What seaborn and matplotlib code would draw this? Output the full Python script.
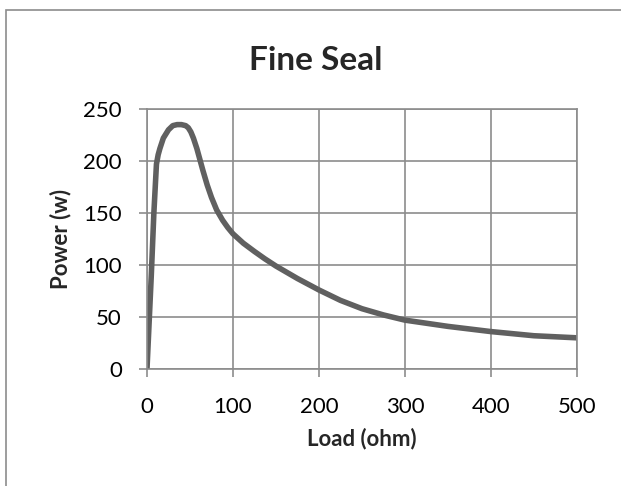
import matplotlib
matplotlib.use("Agg")
import matplotlib.pyplot as plt
import seaborn as sns
import pandas as pd
from matplotlib.patches import Rectangle

load_ohm = [0, 5, 8, 11, 13, 15, 19, 25, 30, 35, 40, 45, 48, 51, 54, 58, 62, 65, 70, 75,
            81, 88, 94, 100, 112, 125, 137, 150, 175, 200, 225, 250, 275, 300, 350, 400,
            450, 500]
power_w = [0, 90, 150, 197, 206, 212, 222, 230, 234, 235, 235, 234, 232, 228, 222, 212,
           200, 191, 177, 165, 153, 143, 136, 130, 121, 113, 106, 99, 87, 76, 66, 58, 52,
           47, 41, 36, 32, 30]
x_ticks = [0, 100, 200, 300, 400, 500]
y_ticks = [0, 50, 100, 150, 200, 250]

df = pd.DataFrame({"Load (ohm)": load_ohm, "Power (w)": power_w})

sns.set_theme(style="white")
plt.rcParams["font.family"] = ["Lato", "DejaVu Sans"]

fig = plt.figure(figsize=(6.21, 4.86), dpi=100)
ax = fig.add_axes([0.2367, 0.2407, 0.929 - 0.2367, 0.7757 - 0.2407])

sns.lineplot(data=df, x="Load (ohm)", y="Power (w)", ax=ax, color="#606060",
             linewidth=4.0, sort=False, estimator=None)
ax.lines[0].set_solid_joinstyle("round")
ax.lines[0].set_solid_capstyle("round")

ax.set_xlim(0, 500)
ax.set_ylim(0, 250)
ax.set_xticks(x_ticks)
ax.set_yticks(y_ticks)
ax.grid(True, color="#8c8c8c", linewidth=1.2)
for s in ax.spines.values():
    s.set_color("#8c8c8c")
    s.set_linewidth(1.2)
ax.tick_params(axis="both", which="both", direction="out", length=6, width=1.2,
               color="#8c8c8c", labelsize=16, labelcolor="black",
               left=True, bottom=True)
ax.tick_params(axis="y", pad=12)
ax.tick_params(axis="x", pad=14)
ax.set_xlabel("Load (ohm)", fontsize=16, fontweight="bold", labelpad=8)
ax.set_ylabel("Power (w)", fontsize=16, fontweight="bold", labelpad=9)
fig.text(0.508, 0.875, "Fine Seal", ha="center", va="center", fontsize=24,
         fontweight="bold")

fig.patches.append(Rectangle((0.009, -0.05), 1.1, 1.029, transform=fig.transFigure,
                             fill=False, edgecolor="#8c8c8c", linewidth=1.2))

fig.savefig("out.png", dpi=100)
